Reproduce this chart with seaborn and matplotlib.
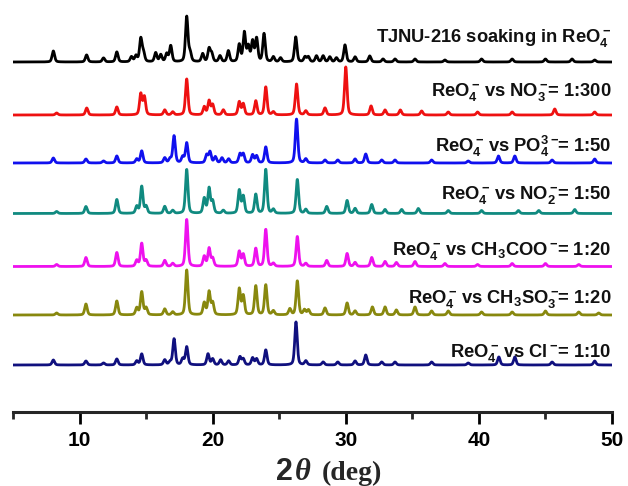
import numpy as np
import pandas as pd
import matplotlib
matplotlib.use("Agg")
import matplotlib.pyplot as plt
import seaborn as sns

# ---------------- data ----------------
labels = [
    r"TJNU-216 soaking in ReO$_4^-$",
    r"ReO$_4^-\!$ vs NO$_3^-\!$= 1:300",
    r"ReO$_4^-\!$ vs PO$_4^{3-}\!$= 1:50",
    r"ReO$_4^-\!$ vs NO$_2^-\!$= 1:50",
    r"ReO$_4^-\!$ vs CH$_3$COO$^-\!$= 1:20",
    r"ReO$_4^-\!$ vs CH$_3$SO$_3^-\!$= 1:20",
    r"ReO$_4^-\!$ vs Cl$^-\!$= 1:10",
]
colors = ["#000000", "#ee1111", "#1010ee", "#108a80", "#ee11ee", "#88880e", "#10107e"]
offsets = [350, 297, 249, 198.5, 145.5, 97, 47]
label_y = [370, 316, 260, 213, 157, 109, 55]

black_pos = [8.03, 10.53, 11.8, 12.8, 13.9, 14.24, 14.6, 14.8, 15.72, 16.1, 16.55, 16.85, 18.05, 18.3, 19.25,
             19.73, 19.93, 20.55, 21.18, 22.0, 22.38, 22.68, 23.0, 23.3, 23.86, 24.56, 25.1, 26.24, 26.94, 27.19,
             27.8, 28.3, 28.8, 29.3, 29.94, 30.7, 31.8, 32.8, 33.7, 35.2, 37.45, 40.2, 42.5, 45.0, 47.0, 48.7]
black_int = [11, 7, 4, 10, 5, 6, 23, 9, 9, 7, 8, 16, 45, 9, 8, 13, 8, 6, 11, 17,
             29, 15, 20, 23, 28, 5, 4, 25, 5, 5, 6, 6, 5, 4, 17, 5, 6, 3, 3, 3,
             2, 3, 3, 3, 3, 2]

red_pos = [8.28, 10.54, 12.8, 14.6, 14.87, 16.4, 17.0, 18.05, 19.37, 19.73, 20.0, 20.8, 22.0, 22.3, 23.24,
           23.99, 24.56, 26.3, 27.0, 28.44, 30.0, 31.9, 32.95, 34.1, 35.7, 37.7, 39.9, 42.5, 45.7, 48.7]
red_int = [2, 7, 8, 21, 18, 5, 3, 36, 8, 14, 10, 5, 13, 11, 14, 28, 3, 31, 4, 7,
           48, 9, 5, 5, 4, 3, 3, 3, 6, 3]

blue_pos = [8.03, 10.48, 11.8, 12.8, 14.3, 14.67, 16.4, 16.8, 17.1, 17.75, 18.05, 19.55, 19.8, 20.2, 20.7,
            21.2, 22.05, 22.3, 23.0, 23.3, 23.99, 26.3, 27.0, 28.44, 29.4, 30.7, 31.5, 32.7, 33.7, 36.45,
            39.2, 41.47, 42.7, 45.5, 48.7]
blue_int = [5, 4, 2, 7, 4, 12, 5, 4, 27, 6, 20, 8, 11, 6, 5, 4, 9, 9, 8, 7,
            16, 44, 4, 3, 3, 4, 9, 3, 3, 3, 2, 7, 7, 3, 4]

teal_pos = [8.28, 10.48, 12.8, 14.3, 14.67, 15.0, 16.4, 17.0, 18.05, 19.37, 19.73, 20.0, 20.8, 22.0, 22.3,
            23.24, 23.99, 24.56, 26.36, 27.0, 28.57, 30.1, 30.7, 31.95, 32.95, 34.2, 35.45, 37.7, 40.2, 42.97,
            44.5, 47.2]
teal_int = [2, 7, 14, 7, 27, 7, 7, 3, 44, 15, 25, 12, 3, 23, 17, 19, 44, 4, 34, 4,
            7, 13, 5, 9, 4, 4, 5, 3, 3, 3, 3, 4]

magenta_pos = [8.28, 10.48, 12.8, 14.3, 14.67, 15.0, 16.4, 17.0, 18.05, 19.37, 19.73, 20.0, 22.0, 22.3, 23.24,
               23.99, 24.56, 26.36, 27.0, 28.57, 30.1, 30.7, 31.95, 32.95, 33.8, 35.2, 37.45, 39.9, 42.5, 45.0,
               47.5]
magenta_int = [2, 9, 14, 6, 23, 6, 6, 3, 47, 10, 18, 8, 15, 12, 18, 37, 3, 30, 3, 6,
               13, 4, 9, 5, 4, 5, 3, 2, 3, 3, 2]

olive_pos = [8.28, 10.48, 12.8, 14.3, 14.67, 15.0, 16.4, 17.0, 18.05, 19.37, 19.73, 20.0, 22.0, 22.3, 23.24,
             23.99, 24.56, 25.8, 26.36, 26.9, 27.2, 28.44, 30.1, 30.7, 32.0, 32.95, 33.8, 35.2, 36.45, 37.7,
             40.2, 42.5, 45.0, 47.5, 49.0]
olive_int = [2, 11, 14, 7, 23, 7, 6, 3, 45, 12, 23, 12, 26, 19, 29, 30, 4, 6, 34, 5,
             5, 7, 12, 4, 8, 8, 5, 8, 4, 4, 3, 3, 4, 3, 2]

navy_pos = [8.03, 10.48, 11.8, 12.8, 14.3, 14.67, 16.4, 16.8, 17.1, 17.75, 18.05, 19.65, 20.0, 20.6, 21.2,
            22.05, 22.3, 23.0, 23.3, 23.99, 26.26, 27.0, 28.3, 29.4, 30.7, 31.5, 32.7, 33.7, 36.45, 39.2,
            41.5, 42.7, 45.5, 48.7]
navy_int = [5, 4, 2, 6, 4, 11, 5, 3, 26, 6, 18, 11, 6, 5, 4, 8, 6, 7, 6, 15,
            43, 4, 3, 3, 4, 10, 3, 3, 3, 2, 8, 8, 3, 4]

peak_sets = [(black_pos, black_int), (red_pos, red_int), (blue_pos, blue_int), (teal_pos, teal_int),
             (magenta_pos, magenta_int), (olive_pos, olive_int), (navy_pos, navy_int)]

x_ticks = [10, 20, 30, 40, 50]
x_minor = [5, 15, 25, 35, 45]

# ---------------- build long table of pattern profiles ----------------
two_theta = np.linspace(5, 50, 3000)
fwhm = 0.22


def profile(x, pos, inten):
    y = np.zeros_like(x)
    hw = fwhm / 2.0
    for p, h in zip(pos, inten):
        g = np.exp(-np.log(2) * ((x - p) / hw) ** 2)
        l = 1.0 / (1.0 + ((x - p) / hw) ** 2)
        y += h * (0.6 * g + 0.4 * l)
    return y


frames = []
for lab, off, (pos, inten) in zip(labels, offsets, peak_sets):
    frames.append(pd.DataFrame({"two_theta": two_theta,
                                "intensity": profile(two_theta, pos, inten) + off,
                                "sample": lab}))
df = pd.concat(frames, ignore_index=True)

# ---------------- plot ----------------
sns.set_style("ticks")
plt.rcParams["font.family"] = ["Liberation Sans", "DejaVu Sans"]
plt.rcParams["mathtext.default"] = "regular"

fig = plt.figure(figsize=(6.28, 4.86), dpi=100)
ax = fig.add_axes([13 / 628, 74 / 486, 599 / 628, 407 / 486])

sns.lineplot(data=df, x="two_theta", y="intensity", hue="sample", palette=colors,
             hue_order=labels, legend=False, linewidth=2.0, estimator=None, sort=False, ax=ax)

for lab, ly in zip(labels, label_y):
    ax.text(49.95, ly, lab, ha="right", va="baseline", fontsize=13.2, fontweight="bold", color="#111111")

ax.set_xlim(5, 50)
ax.set_ylim(0, 407)
ax.set_xticks(x_ticks)
ax.set_xticks(x_minor, minor=True)
ax.set_xticklabels([str(t) for t in x_ticks], fontsize=15, fontweight="bold")
ax.set_yticks([])
ax.set_xlabel("")
ax.set_ylabel("")
for s in ["left", "top", "right"]:
    ax.spines[s].set_visible(False)
ax.spines["bottom"].set_linewidth(2.2)
ax.tick_params(axis="x", which="major", length=8.5, width=2, pad=5, direction="out", colors="black")
ax.tick_params(axis="x", which="minor", length=5, width=2, direction="out")

# x-axis title: 2θ (deg)
fig.text(276 / 628, 1 - 480 / 486, "2", fontsize=22, fontweight="bold", family="Liberation Sans",
         ha="left", va="baseline")
fig.text(295 / 628, 1 - 480 / 486, "θ", fontsize=22, fontweight="bold", style="italic",
         family="Liberation Serif", ha="left", va="baseline")
fig.text(322 / 628, 1 - 480 / 486, "(deg)", fontsize=20, fontweight="bold", family="Liberation Serif",
         ha="left", va="baseline")

fig.savefig("out.png", dpi=100)
